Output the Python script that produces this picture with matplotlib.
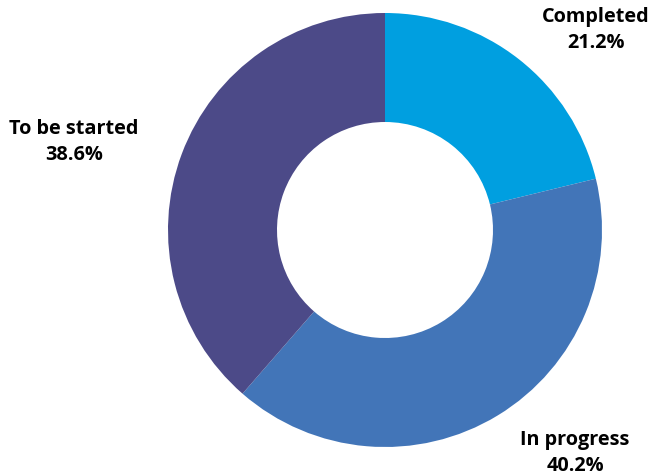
import matplotlib.pyplot as plt

# status shares (%), clockwise from 12 o'clock
labels = ['Completed', 'In progress', 'To be started']
shares = [21.2, 40.2, 38.6]
colors = ['#009fe0', '#4275b8', '#4c4a88']

plt.rcParams['font.family'] = ['Open Sans', 'DejaVu Sans']

fig = plt.figure(figsize=(6.52, 4.76), dpi=100)
ax = fig.add_axes([0, 0, 1, 1])

ax.pie(shares, colors=colors, startangle=90, counterclock=False,
       center=(385, 246), radius=217, frame=True,
       wedgeprops=dict(width=109, linewidth=0))
ax.set_xlim(0, 652)
ax.set_ylim(0, 476)
ax.set_aspect('equal')
ax.axis('off')

# label positions in pixels
label_xy = [(596, 446), (575, 23), (74, 334)]
for name, val, (x, y) in zip(labels, shares, label_xy):
    ax.text(x, y, f'{name}\n{val:.1f}%', ha='center', va='center',
            multialignment='center', fontsize=14.3, fontweight='bold',
            linespacing=1.38, color='#000000')

fig.savefig('out.png', dpi=100)
